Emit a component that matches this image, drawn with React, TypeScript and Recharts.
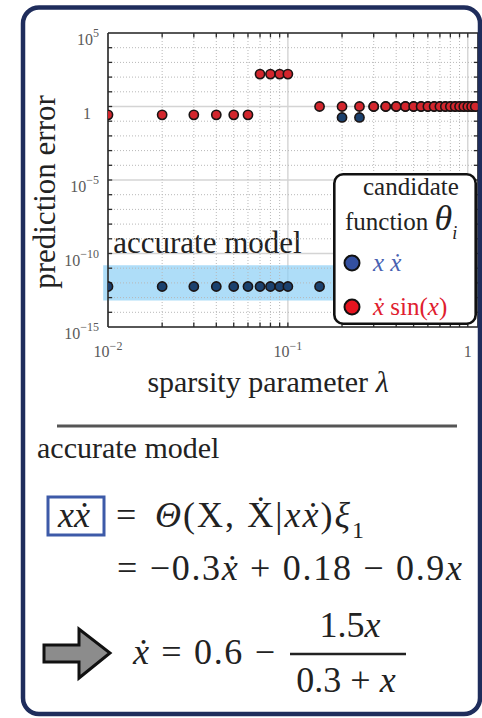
import React from "react";
import {
  ScatterChart,
  Scatter,
  XAxis,
  YAxis,
  CartesianGrid,
  ReferenceLine,
  ReferenceArea,
  Legend,
} from "recharts";

// sweep of the sparsity parameter and the prediction error of each candidate
const LAMBDA = [
  0.01, 0.02, 0.03, 0.04, 0.05, 0.06, 0.07, 0.08, 0.09, 0.1, 0.15, 0.2, 0.25, 0.3, 0.35, 0.4,
  0.45, 0.5, 0.55, 0.6, 0.65, 0.7, 0.75, 0.8, 0.85, 0.9, 0.95, 1.0, 1.05, 1.1,
];
const ERR_XXDOT = [
  5.7e-13, 5.7e-13, 5.7e-13, 5.7e-13, 5.7e-13, 5.7e-13, 5.7e-13, 5.7e-13, 5.7e-13, 5.7e-13,
  5.7e-13, 0.18, 0.18, 1, 1, 1, 1, 1, 1, 1, 1, 1, 1, 1, 1, 1, 1, 1, 1, 1,
];
const ERR_XDOT_SIN = [
  0.27, 0.27, 0.27, 0.27, 0.27, 0.27, 160, 160, 160, 160, 1, 1, 1, 1, 1, 1, 1, 1, 1, 1, 1, 1,
  1, 1, 1, 1, 1, 1, 1, 1,
];

const X_TICKS = [0.01, 0.1, 1];
const X_TICK_EXP = ["−2", "−1", ""];
const X_MINOR = [0.02, 0.03, 0.04, 0.05, 0.06, 0.07, 0.08, 0.09, 0.2, 0.3, 0.4, 0.5, 0.6, 0.7, 0.8, 0.9];
const Y_TICKS = [1e-15, 1e-10, 1e-5, 1, 1e5];
const Y_TICK_EXP = ["−15", "−10", "−5", "", "5"];
const Y_MINOR = [
  1e-14, 1e-13, 1e-12, 1e-11, 1e-9, 1e-8, 1e-7, 1e-6, 1e-4, 1e-3, 1e-2, 1e-1, 10, 100, 1e3, 1e4,
];
const BAND = [6.3e-14, 1.6e-11];

const X_MIN = 0.01;
const X_MAX = 1.14;
const Y_MIN = 1e-15;
const Y_MAX = 1e5;

const SERIF = '"Liberation Serif", "DejaVu Serif", serif';
const BOX = "#2a2a2a";
const BLUE = "#1b416e";
const RED = "#d3262d";

const blueData = LAMBDA.map((lam, i) => ({ lam, err: ERR_XXDOT[i] }));
const redData = LAMBDA.map((lam, i) => ({ lam, err: ERR_XDOT_SIN[i] }));

const X_EDGE = [...X_MINOR, 0.1, 1];
const Y_EDGE = [...Y_MINOR, 1e-10, 1e-5, 1];

function XTick({ x, y, payload }: any) {
  const exp = X_TICK_EXP[X_TICKS.indexOf(payload.value)];
  return (
    <text x={x} y={y + 28} textAnchor="middle" fontSize={16} fill="#5a5a5a" style={{ fontFamily: SERIF }}>
      {exp ? "10" : "1"}
      {exp && (
        <tspan dy={-7} fontSize={12}>
          {exp}
        </tspan>
      )}
    </text>
  );
}

function YTick({ x, y, payload }: any) {
  const exp = Y_TICK_EXP[Y_TICKS.indexOf(payload.value)];
  return (
    <text x={exp ? x : x - 8} y={y + 12} textAnchor="end" fontSize={16} fill="#5a5a5a" style={{ fontFamily: SERIF }}>
      {exp ? "10" : "1"}
      {exp && (
        <tspan dy={-8} fontSize={12}>
          {exp}
        </tspan>
      )}
    </text>
  );
}

const dot = (fill: string) => (p: any) =>
  <circle cx={p.cx} cy={p.cy} r={4.6} fill={fill} stroke="#1a1414" strokeWidth={1.6} />;

const LEGEND_ORDER = ["xxdot", "xdotsin"];
const LEGEND_FILL: Record<string, string> = { xxdot: "#3350a0", xdotsin: "#e6141f" };
const LEGEND_TEXT: Record<string, string> = { xxdot: "#4862b2", xdotsin: "#e0202e" };

function legendLabel(name: string) {
  if (name === "xxdot") return <tspan fontStyle="italic">x ẋ</tspan>;
  return (
    <>
      <tspan fontStyle="italic">ẋ</tspan> sin(<tspan fontStyle="italic">x</tspan>)
    </>
  );
}

function LegendBox(props: any) {
  const items = [...(props.payload ?? [])].sort(
    (a: any, b: any) => LEGEND_ORDER.indexOf(a.value) - LEGEND_ORDER.indexOf(b.value)
  );
  return (
    <svg width={144} height={152} style={{ display: "block", fontFamily: SERIF }}>
      <rect x={1.3} y={1.3} width={141.4} height={149.4} rx={9} fill="#fff" stroke="#111" strokeWidth={2.6} />
      <text x={30} y={22} fontSize={25} fill="#222">
        candidate
      </text>
      <text x={12} y={57} fontSize={25} fill="#222">
        function{" "}
        <tspan fontStyle="italic" fontSize={36}>
          θ
        </tspan>
        <tspan fontStyle="italic" fontSize={18} dy={9}>
          i
        </tspan>
      </text>
      {items.map((it: any, i: number) => (
        <g key={it.value}>
          <circle cx={19} cy={90 + i * 44} r={7.5} fill={LEGEND_FILL[it.value]} stroke="#111" strokeWidth={2} />
          <text x={40} y={98 + i * 44} fontSize={25} fill={LEGEND_TEXT[it.value]}>
            {legendLabel(it.value)}
          </text>
        </g>
      ))}
    </svg>
  );
}

function Chart() {
  return (
    <ScatterChart width={482} height={400} margin={{ top: 33, right: 4, bottom: 0, left: 0 }}>
      <CartesianGrid stroke="#d4d4d4" strokeWidth={1.4} />
      {X_MINOR.map((v) => (
        <ReferenceLine key={"gx" + v} x={v} stroke="#b8b8b8" strokeDasharray="1 2" />
      ))}
      {Y_MINOR.map((v) => (
        <ReferenceLine key={"gy" + v} y={v} stroke="#b8b8b8" strokeDasharray="1 2" />
      ))}
      <ReferenceArea
        x1={0.0094}
        x2={X_MAX}
        y1={BAND[0]}
        y2={BAND[1]}
        ifOverflow="visible"
        fill="#8ccff5"
        fillOpacity={0.7}
        stroke="none"
        label={(p: any) => (
          <text x={p.viewBox.x + 10} y={p.viewBox.y - 12} fontSize={31} fill="#222" style={{ fontFamily: SERIF }}>
            accurate model
          </text>
        )}
      />
      <XAxis
        type="number"
        dataKey="lam"
        scale="log"
        domain={[X_MIN, X_MAX]}
        allowDataOverflow
        ticks={X_TICKS}
        height={73}
        tickSize={0}
        tickLine={false}
        axisLine={{ stroke: BOX, strokeWidth: 1.6 }}
        tick={XTick}
      />
      <YAxis
        type="number"
        dataKey="err"
        scale="log"
        domain={[Y_MIN, Y_MAX]}
        allowDataOverflow
        ticks={Y_TICKS}
        width={108}
        tickSize={0}
        tickMargin={9}
        tickLine={false}
        axisLine={{ stroke: BOX, strokeWidth: 1.6 }}
        tick={YTick}
      />
      <ReferenceLine y={Y_MAX} stroke={BOX} strokeWidth={1.6} ifOverflow="visible" />
      <ReferenceLine x={X_MAX} stroke={BOX} strokeWidth={1.6} ifOverflow="visible" />
      {X_EDGE.map((v) => (
        <ReferenceLine key={"tb" + v} segment={[{ x: v, y: Y_MIN }, { x: v, y: Y_MIN * 2 }]} stroke={BOX} strokeWidth={1.3} />
      ))}
      {X_EDGE.map((v) => (
        <ReferenceLine key={"tt" + v} segment={[{ x: v, y: Y_MAX / 2 }, { x: v, y: Y_MAX }]} stroke={BOX} strokeWidth={1.3} />
      ))}
      {Y_EDGE.map((v) => (
        <ReferenceLine key={"tl" + v} segment={[{ x: X_MIN, y: v }, { x: X_MIN * 1.055, y: v }]} stroke={BOX} strokeWidth={1.3} />
      ))}
      {Y_EDGE.map((v) => (
        <ReferenceLine key={"tr" + v} segment={[{ x: X_MAX / 1.055, y: v }, { x: X_MAX, y: v }]} stroke={BOX} strokeWidth={1.3} />
      ))}
      <Scatter name="xxdot" data={blueData} fill={BLUE} shape={dot(BLUE)} isAnimationActive={false} />
      <Scatter name="xdotsin" data={redData} fill={RED} shape={dot(RED)} isAnimationActive={false} />
      <Legend
        layout="horizontal"
        verticalAlign="middle"
        align="center"
        wrapperStyle={{ left: 333, top: 173, width: 144, height: 152 }}
        content={LegendBox}
      />
    </ScatterChart>
  );
}

function Overlay() {
  return (
    <svg
      width={482}
      height={718}
      style={{ position: "absolute", left: 0, top: 0, pointerEvents: "none", fontFamily: SERIF }}
      fill="#222"
    >
      <rect x={23} y={7.5} width={457} height={706.5} rx={16} fill="none" stroke="#1f2d5c" strokeWidth={4.5} />
      <text transform="translate(55,192) rotate(-90)" textAnchor="middle" fontSize={31}>
        prediction error
      </text>
      <text x={268} y={392} textAnchor="middle" fontSize={30}>
        sparsity parameter <tspan fontStyle="italic">λ</tspan>
      </text>

      <line x1={57} x2={457} y1={426} y2={426} stroke="#555" strokeWidth={3} />
      <text x={37} y={458} fontSize={30}>
        accurate model
      </text>

      <rect x={48} y={497} width={56} height={38} fill="none" stroke="#3d5aa8" strokeWidth={3} />
      <text x={58} y={527} fontSize={36} fontStyle="italic">
        xẋ
      </text>
      <text x={116} y={527} fontSize={36}>
        =
      </text>
      <text x={155} y={527} fontSize={36} textLength={195} lengthAdjust="spacing">
        <tspan fontStyle="italic">Θ</tspan>(X, Ẋ|<tspan fontStyle="italic">xẋ</tspan>)
        <tspan fontStyle="italic">ξ</tspan>
      </text>
      <text x={352} y={538} fontSize={24}>
        1
      </text>

      <text x={117} y={580} fontSize={36} textLength={345} lengthAdjust="spacing">
        = −0.3<tspan fontStyle="italic">ẋ</tspan> + 0.18 − 0.9<tspan fontStyle="italic">x</tspan>
      </text>

      <polygon
        points="44,645 79,645 79,629 110,653 79,678 79,662 44,662"
        fill="#8c8c8c"
        stroke="#111"
        strokeWidth={3}
        strokeLinejoin="miter"
      />
      <text x={133} y={664} fontSize={36} textLength={142} lengthAdjust="spacing">
        <tspan fontStyle="italic">ẋ</tspan> = 0.6 −
      </text>
      <text x={350} y={637} fontSize={36} textAnchor="middle">
        1.5<tspan fontStyle="italic">x</tspan>
      </text>
      <line x1={290} x2={406} y1={654} y2={654} stroke="#222" strokeWidth={2.5} />
      <text x={346} y={692} fontSize={36} textAnchor="middle">
        0.3 + <tspan fontStyle="italic">x</tspan>
      </text>
    </svg>
  );
}

export default function App() {
  return (
    <div style={{ position: "relative", width: 482, height: 718, background: "#fff", overflow: "hidden" }}>
      <style>{"body{margin:0}"}</style>
      <Chart />
      <Overlay />
    </div>
  );
}
